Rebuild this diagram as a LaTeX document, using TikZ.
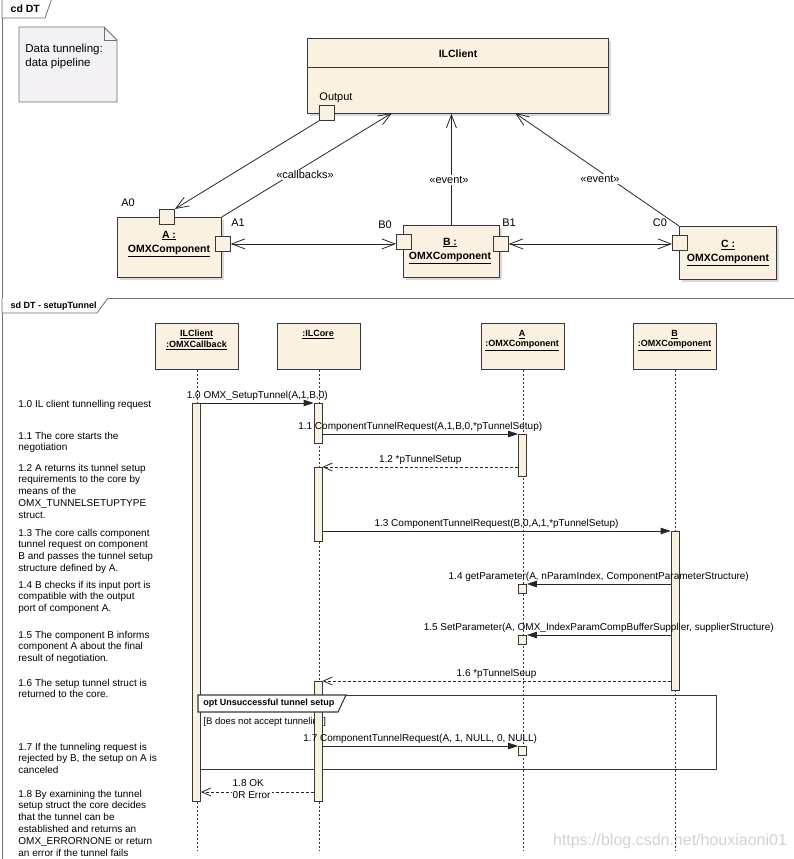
\documentclass[tikz,border=0pt]{standalone}
\usepackage{fontspec}
\setmainfont{Liberation Sans}
\usetikzlibrary{arrows.meta,shadows}

\definecolor{boxfill}{HTML}{FBF1E1}
\definecolor{notefill}{HTML}{F4F1F6}
\definecolor{edgegray}{HTML}{383838}
\definecolor{framegray}{HTML}{707070}

\tikzset{
	classbox/.style={draw=edgegray, fill=boxfill, inner sep=0pt, anchor=north west,
		drop shadow={shadow xshift=3pt, shadow yshift=-3pt, opacity=.3}},
	portbox/.style={draw=edgegray, fill=boxfill, inner sep=0pt, minimum size=15pt, anchor=north west},
	headbox/.style={draw=edgegray, fill=boxfill, inner sep=0pt, anchor=north west,
		minimum width=83pt, minimum height=46pt},
	actbar/.style={draw=edgegray, fill=boxfill, inner sep=0pt, anchor=north, minimum width=8pt},
	lifeline/.style={draw=edgegray, line width=0.6pt, dash pattern=on 2pt off 2pt},
	barb/.tip={Straight Barb[length=13pt,width=10pt]},
	openarrow/.style={draw=black!85, -barb},
	twoway/.style={draw=black!85, barb-barb},
	callmsg/.style={draw=black!85, -{Triangle[length=10pt,width=6.5pt]}},
	retmsg/.style={draw=black!85, dash pattern=on 3pt off 2pt, -{Straight Barb[length=9pt,width=8pt]}},
	msglabel/.style={font=\fontsize{10}{12}\selectfont, anchor=south, inner sep=2.5pt},
	sdnote/.style={font=\fontsize{10}{11.8}\selectfont, align=left, anchor=north west, inner sep=0pt},
	stereo/.style={font=\fontsize{11}{13}\selectfont, fill=white, inner sep=1pt},
	portlabel/.style={font=\fontsize{11}{13}\selectfont, inner sep=0pt, text depth=0pt},
	complabel/.style={font=\fontsize{10.5}{14}\selectfont\bfseries, align=center, inner sep=0pt, anchor=north},
	headlabel/.style={font=\fontsize{9}{10.5}\selectfont\bfseries, align=center, inner sep=0pt, anchor=north},
}

\begin{document}
\begin{tikzpicture}[x=1pt,y=-1pt,line width=0.8pt]
	\useasboundingbox (0,0) rectangle (794,859);

	% frames
	\draw[framegray, line width=1pt] (2,-2) rectangle (796,298);
	\draw[framegray, fill=white] (2,-2) -- (2,18) -- (45,18) -- (52,-2);
	\node[anchor=west, font=\fontsize{10.5}{12}\selectfont\bfseries] (cdtitle) at (7,9) {cd DT};
	\draw[framegray, line width=1pt] (2,298) rectangle (796,861);
	\draw[framegray, fill=white] (2,298) -- (2,313) -- (97,313) -- (108,298);
	\node[anchor=west, font=\fontsize{9}{11}\selectfont\bfseries] (sdtitle) at (7,306) {sd DT - setupTunnel};

	% note
	\draw[framegray, fill=notefill] (19,27) -- (104,27) -- (117,40) -- (117,102) -- (19,102) -- cycle;
	\draw[framegray] (104,27) -- (104,40) -- (117,40);
	\node[font=\fontsize{11.5}{14}\selectfont, align=left, anchor=north west, inner sep=0pt] (notetext) at (25,43.5) {Data tunneling:\\data pipeline};

	% class diagram
	\node[classbox, minimum width=301pt, minimum height=75pt] (ilclient) at (307,38) {};
	\draw[edgegray] (307,67) -- (608,67);
	\node[font=\fontsize{10.5}{12}\selectfont\bfseries] (ilclientname) at (458,54) {ILClient};
	\node[portbox] (output) at (319,105) {};
	\node[portlabel] (outputlbl) at (336,96.5) {Output};

	\node[classbox, minimum width=104pt, minimum height=60pt] (compa) at (117,217) {};
	\node[complabel] (companame) at (169,230.5) {\underline{A :}\\\underline{OMXComponent}};
	\node[portbox] (a0) at (159,209) {};
	\node[portbox] (a1) at (215,236) {};
	\node[portlabel] (a0lbl) at (128,203) {A0};
	\node[portlabel] (a1lbl) at (238,223) {A1};

	\node[classbox, minimum width=96pt, minimum height=52pt] (compb) at (403,225) {};
	\node[complabel] (compbname) at (450,237.5) {\underline{B :}\\\underline{OMXComponent}};
	\node[portbox] (b0) at (396,234) {};
	\node[portbox] (b1) at (493,236) {};
	\node[portlabel] (b0lbl) at (385,225) {B0};
	\node[portlabel] (b1lbl) at (509,223) {B1};

	\node[classbox, minimum width=97pt, minimum height=53pt] (compc) at (679,226) {};
	\node[complabel] (compcname) at (728,239.5) {\underline{C :}\\\underline{OMXComponent}};
	\node[portbox] (c0) at (672,235) {};
	\node[portlabel] (c0lbl) at (660,223) {C0};

	\coordinate (cbend) at (392,113);
	\coordinate (evcend) at (515,113);
	\draw[openarrow] (output.south west) -- (a0.north east);
	\draw[openarrow] (compa.north east) -- (cbend);
	\draw[openarrow] (compb.north) -- (compb.north |- ilclient.south);
	\draw[openarrow] (compc.north west) -- (evcend);
	\draw[twoway] (a1.east) -- (a1.east -| b0.west);
	\draw[twoway] (b1.east) -- (b1.east -| c0.west);

	%labels
	\node[stereo] (cblbl) at (305,175) {«callbacks»};
	\node[stereo] (evblbl) at (449,180) {«event»};
	\node[stereo] (evclbl) at (600,179) {«event»};

	% watermark
	\node[font=\fontsize{16}{18}\selectfont, text=gray!35, inner sep=0pt] (mark) at (670,841) {https://blog.csdn.net/houxiaoni01};

	% sequence diagram
	\node[headbox] (clienthead) at (155,323) {};
	\node[headbox] (corehead) at (277,323) {};
	\node[headbox] (ahead) at (481,323) {};
	\node[headbox] (bhead) at (633,323) {};
	\node[headlabel] (clientname) at (196.5,329.8) {\underline{ILClient}\\\underline{:OMXCallback}};
	\node[headlabel] (corename) at (318,329.8) {\underline{:ILCore}};
	\node[headlabel] (aname) at (522,329.8) {\underline{A}\\\underline{:OMXComponent}};
	\node[headlabel] (bname) at (674.5,329.8) {\underline{B}\\\underline{:OMXComponent}};

	\coordinate (bottom) at (0,850);
	\foreach \h in {clienthead,corehead,ahead,bhead}
		\draw[lifeline] (\h.south) -- (\h.south |- bottom);

	% opt fragment
	\node[draw=edgegray, line width=1.1pt, inner sep=0pt, anchor=north west, minimum width=518pt, minimum height=74pt] (optframe) at (198,695) {};
	\node[anchor=west, font=\fontsize{9.5}{11}\selectfont, inner sep=0pt] (guard) at (203,722) {[B does not accept tunneling]};

	% activations
	\node[actbar, minimum height=398pt] (clientact) at (196.5,403) {};
	\node[actbar, minimum height=40pt] (coreact1) at (318,403) {};
	\node[actbar, minimum height=74pt] (coreact2) at (318,467) {};
	\node[actbar, minimum height=120pt] (coreact3) at (318,681) {};
	\node[actbar, minimum height=42pt] (aact1) at (522.5,434) {};
	\node[actbar, minimum height=9pt] (aact2) at (522.5,584) {};
	\node[actbar, minimum height=9pt] (aact3) at (522.5,635) {};
	\node[actbar, minimum height=9pt] (aact4) at (522.5,746) {};
	\node[actbar, minimum height=159pt] (bact) at (675,531) {};

	\draw[edgegray, line width=1.1pt, fill=white] (198,695) -- (198,712) -- (338,712) -- (346,695) -- cycle;
	\node[anchor=west, font=\fontsize{9}{11}\selectfont\bfseries, inner sep=0pt] (optname) at (203,703) {opt Unsuccessful tunnel setup};

	% messages
	\coordinate (okrow) at (0,792);
	\draw[callmsg] (clientact.north east) -- (coreact1.north west)
		node[msglabel, midway] {1.0 OMX\_SetupTunnel(A,1,B,0)};
	\draw[callmsg] (coreact1.east |- aact1.north) -- (aact1.north west)
		node[msglabel, midway] {1.1 ComponentTunnelRequest(A,1,B,0,*pTunnelSetup)};
	\draw[retmsg] (aact1.west |- coreact2.north) -- (coreact2.north east)
		node[msglabel, midway] {1.2 *pTunnelSetup};
	\draw[callmsg] (coreact2.east |- bact.north) -- (bact.north west)
		node[msglabel, midway] {1.3 ComponentTunnelRequest(B,0,A,1,*pTunnelSetup)};
	\draw[callmsg] (bact.west |- aact2.north) -- (aact2.north east)
		node[msglabel, midway] {1.4 getParameter(A, nParamIndex, ComponentParameterStructure)};
	\draw[callmsg] (bact.west |- aact3.north) -- (aact3.north east)
		node[msglabel, midway] {1.5 SetParameter(A, OMX\_IndexParamCompBufferSupplier, supplierStructure)};
	\draw[retmsg] (bact.west |- coreact3.north) -- (coreact3.north east)
		node[msglabel, midway] {1.6 *pTunnelSeup};
	\draw[callmsg] (coreact3.east |- aact4.north) -- (aact4.north west)
		node[msglabel, midway] {1.7 ComponentTunnelRequest(A, 1, NULL, 0, NULL)};
	\draw[retmsg] (coreact3.west |- okrow) -- (clientact.east |- okrow)
		node[pos=0.55, yshift=3pt, fill=white, inner sep=1pt, align=left, font=\fontsize{10}{12}\selectfont] {1.8 OK\\0R Error};

	% notes on the left
	\node[sdnote] (n10) at (18,399.4) {1.0 IL client tunnelling request};
	\node[sdnote] (n11) at (18,431.4) {1.1 The core starts the\\negotiation};
	\node[sdnote] (n12) at (18,463.4) {1.2 A returns its tunnel setup\\requirements to the core by\\means of the\\OMX\_TUNNELSETUPTYPE\\struct.};
	\node[sdnote] (n13) at (18,528.4) {1.3 The core calls component\\tunnel request on component\\B and passes the tunnel setup\\structure defined by A.};
	\node[sdnote] (n14) at (18,580.4) {1.4 B checks if its input port is\\compatible with the output\\port of component A.};
	\node[sdnote] (n15) at (18,630.4) {1.5 The component B informs\\component A about the final\\result of negotiation.};
	\node[sdnote] (n16) at (18,678.4) {1.6 The setup tunnel struct is\\returned to the core.};
	\node[sdnote] (n17) at (18,742.4) {1.7 If the tunneling request is\\rejected by B, the setup on A is\\canceled};
	\node[sdnote] (n18) at (18,789.4) {1.8 By examining the tunnel\\setup struct the core decides\\that the tunnel can be\\established and returns an\\OMX\_ERRORNONE or return\\an error if the tunnel fails};
\end{tikzpicture}
\end{document}
